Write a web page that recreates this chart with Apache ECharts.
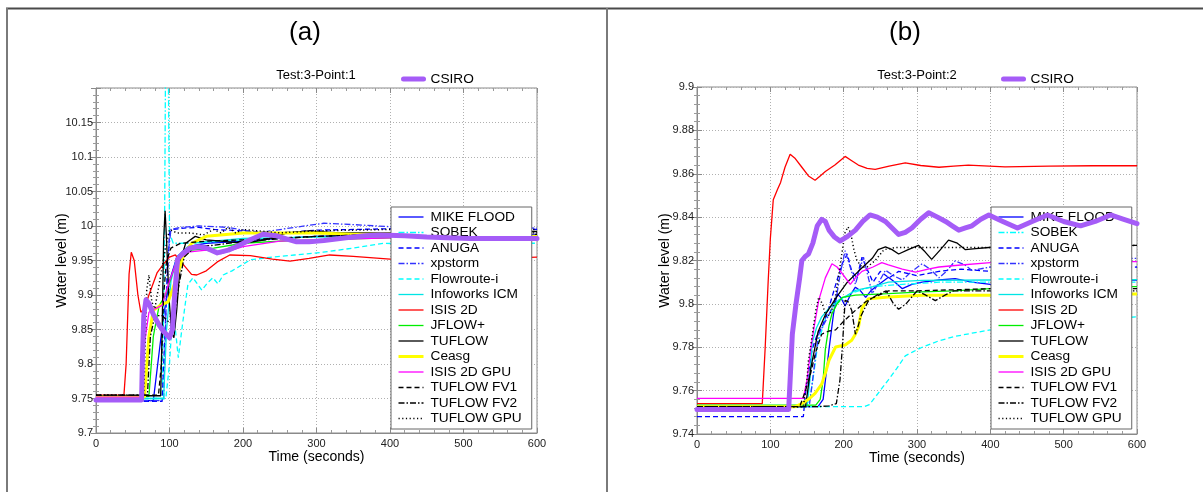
<!DOCTYPE html>
<html><head><meta charset="utf-8">
<script src="https://cdn.jsdelivr.net/npm/echarts@6/dist/echarts.min.js"></script>
<style>html,body{margin:0;padding:0;background:#fff}#c{width:1203px;height:492px}</style>
</head><body><div id="c"></div>
<script>
// ---------- names / ticks ----------
const NAMES = ['MIKE FLOOD','SOBEK','ANUGA','xpstorm','Flowroute-i','Infoworks ICM','ISIS 2D','JFLOW+','TUFLOW','Ceasg','ISIS 2D GPU','TUFLOW FV1','TUFLOW FV2','TUFLOW GPU'];
const REF_NAME = 'CSIRO';
const PANEL_LABELS = ['(a)','(b)'];
const PANEL_TITLES = ['Test:3-Point:1','Test:3-Point:2'];
const X_RANGE = [0, 600, 100];
const Y_RANGE_A = [9.7, 10.2, 0.05];
const Y_RANGE_B = [9.74, 9.9, 0.02];

// ---------- panel (a) data: [time s, level m] ----------
const A_MIKE_FLOOD = [[0,9.747],[78,9.747],[84,9.80],[92,9.87],[100,9.92],[110,9.955],[125,9.97],[150,9.975],[200,9.978],[250,9.982],[300,9.985],[400,9.987],[500,9.988],[600,9.988]];
const A_SOBEK = [[0,9.75],[90,9.75],[93,9.95],[95,10.3],[98,10.3],[100,9.99],[105,9.975],[130,9.975],[200,9.98],[300,9.985],[400,9.985],[600,9.985]];
const A_ANUGA = [[0,9.746],[90,9.746],[96,9.90],[100,9.99],[105,9.995],[120,9.997],[140,9.998],[160,9.995],[200,9.993],[250,9.99],[300,9.994],[400,9.996],[500,9.995],[600,9.995]];
const A_XPSTORM = [[0,9.747],[92,9.747],[97,9.95],[102,9.995],[115,9.998],[140,10.0],[180,9.998],[220,9.99],[270,9.998],[310,10.004],[350,10.002],[400,9.999],[500,9.998],[600,9.997]];
const A_FLOWROUTE = [[0,9.75],[95,9.75],[100,9.80],[104,9.87],[108,9.85],[112,9.809],[118,9.86],[125,9.915],[132,9.925],[144,9.907],[152,9.918],[159,9.925],[166,9.916],[173,9.929],[185,9.935],[210,9.951],[240,9.955],[270,9.958],[309,9.962],[350,9.968],[391,9.975],[450,9.973],[500,9.975],[600,9.975]];
const A_INFOWORKS = [[0,9.75],[92,9.75],[96,9.85],[102,9.92],[110,9.955],[130,9.975],[160,9.978],[200,9.982],[300,9.984],[400,9.985],[600,9.985]];
const A_ISIS2D = [[0,9.755],[38,9.755],[41,9.80],[45,9.93],[48,9.962],[52,9.95],[57,9.90],[61,9.875],[66,9.88],[72,9.90],[83,9.932],[92,9.945],[100,9.955],[108,9.958],[118,9.945],[130,9.93],[137,9.929],[150,9.935],[165,9.948],[182,9.958],[210,9.957],[240,9.952],[264,9.949],[290,9.953],[318,9.958],[350,9.956],[400,9.952],[450,9.954],[500,9.955],[550,9.953],[600,9.955]];
const A_JFLOW = [[0,9.753],[72,9.753],[78,9.84],[86,9.885],[95,9.90],[105,9.935],[115,9.955],[130,9.965],[160,9.968],[200,9.975],[250,9.978],[300,9.98],[400,9.983],[600,9.985]];
const A_TUFLOW = [[0,9.754],[88,9.754],[90,9.85],[92,9.98],[94,10.022],[96,9.98],[99,9.90],[103,9.845],[106,9.838],[110,9.88],[115,9.95],[122,9.975],[135,9.985],[150,9.98],[170,9.978],[200,9.975],[230,9.98],[260,9.99],[290,9.993],[330,9.99],[370,9.99],[400,9.99],[500,9.992],[600,9.992]];
const A_CEASG = [[0,9.752],[66,9.752],[72,9.84],[78,9.878],[88,9.885],[98,9.89],[108,9.92],[120,9.96],[130,9.975],[150,9.985],[200,9.99],[250,9.99],[300,9.99],[350,9.988],[400,9.988],[500,9.985],[600,9.985]];
const A_ISIS2DGPU = [[0,9.752],[62,9.752],[66,9.83],[72,9.875],[80,9.88],[90,9.885],[100,9.92],[110,9.95],[125,9.962],[150,9.965],[170,9.96],[200,9.97],[250,9.978],[300,9.98],[400,9.983],[600,9.983]];
const A_FV1 = [[0,9.755],[85,9.755],[89,9.80],[92,9.90],[96,9.95],[102,9.968],[115,9.975],[150,9.978],[200,9.98],[300,9.985],[400,9.988],[600,9.988]];
const A_FV2 = [[0,9.755],[70,9.755],[74,9.84],[80,9.87],[90,9.87],[100,9.86],[106,9.862],[112,9.91],[120,9.955],[135,9.97],[160,9.972],[200,9.978],[300,9.985],[400,9.988],[600,9.99]];
const A_GPU = [[0,9.755],[65,9.755],[69,9.907],[72,9.929],[76,9.89],[80,9.88],[95,9.97],[100,9.995],[110,9.99],[128,9.99],[146,9.987],[160,9.995],[170,9.99],[180,9.998],[190,9.99],[200,9.995],[250,9.99],[300,9.993],[400,9.995],[600,9.995]];
const A_CSIRO = [[0,9.748],[62,9.748],[63,9.80],[65,9.87],[68,9.893],[72,9.888],[78,9.872],[85,9.858],[92,9.847],[100,9.838],[104,9.85],[107,9.90],[111,9.952],[118,9.96],[128,9.968],[140,9.97],[150,9.968],[165,9.961],[180,9.965],[195,9.972],[210,9.98],[227,9.988],[245,9.986],[260,9.981],[273,9.977],[290,9.977],[310,9.979],[340,9.983],[365,9.986],[386,9.987],[420,9.986],[450,9.984],[477,9.983],[510,9.982],[540,9.982],[570,9.982],[600,9.982]];

// ---------- panel (b) data ----------
const B_MIKE_FLOOD = [[0,9.7526],[165,9.7526],[172,9.756],[180,9.779],[186,9.795],[191,9.8047],[196,9.803],[202,9.799],[209,9.804],[216,9.8077],[223,9.806],[230,9.803],[237,9.806],[243,9.8077],[252,9.81],[261,9.8123],[270,9.81],[280,9.807],[293,9.809],[307,9.81],[330,9.811],[352,9.8116],[375,9.81],[400,9.809],[450,9.81],[500,9.811],[550,9.811],[600,9.811]];
const B_SOBEK = [[0,9.7526],[152,9.7526],[158,9.765],[165,9.782],[175,9.793],[190,9.80],[210,9.805],[240,9.808],[280,9.809],[330,9.81],[400,9.81],[500,9.81],[600,9.81]];
const B_ANUGA = [[0,9.748],[145,9.748],[148,9.759],[157,9.779],[164,9.786],[170,9.789],[177,9.795],[184,9.803],[191,9.811],[198,9.8185],[205,9.823],[211,9.815],[218,9.812],[225,9.8215],[232,9.816],[240,9.81],[250,9.815],[262,9.812],[275,9.815],[300,9.813],[330,9.815],[360,9.816],[400,9.815],[450,9.816],[500,9.816],[600,9.817]];
const B_XPSTORM = [[0,9.7526],[153,9.7526],[157,9.763],[162,9.777],[166,9.786],[172,9.79],[180,9.795],[186,9.80],[191,9.805],[196,9.815],[202,9.8245],[208,9.818],[216,9.809],[221,9.815],[227,9.8215],[233,9.813],[239,9.8047],[248,9.81],[257,9.8155],[268,9.813],[280,9.811],[293,9.815],[307,9.8185],[318,9.816],[330,9.812],[340,9.815],[352,9.8198],[365,9.818],[375,9.8154],[400,9.817],[450,9.819],[500,9.82],[550,9.821],[600,9.821]];
const B_FLOWROUTE = [[0,9.7526],[228,9.7526],[235,9.7535],[243,9.757],[252,9.761],[261,9.765],[272,9.770],[284,9.776],[295,9.778],[307,9.78],[330,9.783],[352,9.785],[375,9.7865],[400,9.788],[450,9.79],[500,9.7915],[550,9.793],[600,9.794]];
const B_INFOWORKS = [[0,9.7526],[150,9.7526],[154,9.765],[157,9.782],[163,9.789],[170,9.794],[180,9.798],[193,9.8017],[205,9.804],[216,9.8062],[240,9.808],[261,9.81],[307,9.8108],[400,9.811],[500,9.811],[600,9.8112]];
const B_ISIS2D = [[0,9.754],[89,9.754],[93,9.78],[97,9.81],[100,9.83],[104,9.848],[110,9.853],[114,9.856],[120,9.863],[127,9.869],[134,9.867],[143,9.863],[152,9.859],[161,9.857],[168,9.859],[175,9.861],[188,9.864],[202,9.868],[211,9.866],[220,9.864],[232,9.8625],[243,9.862],[262,9.8635],[284,9.865],[305,9.8638],[330,9.863],[350,9.8635],[370,9.864],[420,9.8632],[480,9.8635],[540,9.8637],[600,9.8637]];
const B_JFLOW = [[0,9.7533],[162,9.7533],[168,9.756],[172,9.765],[175,9.779],[180,9.79],[184,9.7955],[191,9.80],[198,9.803],[216,9.804],[261,9.8047],[307,9.8055],[350,9.806],[400,9.807],[500,9.808],[600,9.808]];
const B_TUFLOW = [[0,9.7526],[148,9.7526],[155,9.77],[165,9.787],[175,9.795],[190,9.803],[205,9.81],[220,9.815],[239,9.821],[247,9.825],[257,9.8263],[266,9.825],[275,9.823],[288,9.825],[302,9.827],[311,9.824],[320,9.8205],[332,9.825],[343,9.8294],[355,9.828],[366,9.825],[380,9.8255],[398,9.826],[450,9.826],[500,9.8265],[600,9.827]];
const B_CEASG = [[0,9.7526],[134,9.7526],[143,9.754],[152,9.756],[161,9.7587],[170,9.763],[175,9.768],[180,9.774],[189,9.7801],[202,9.781],[211,9.7832],[216,9.786],[220,9.789],[225,9.798],[234,9.8024],[261,9.8032],[307,9.804],[400,9.804],[500,9.8045],[600,9.8045]];
const B_ISIS2DGPU = [[0,9.7564],[145,9.7564],[150,9.765],[155,9.779],[160,9.79],[166,9.8016],[175,9.812],[184,9.8185],[191,9.817],[198,9.814],[209,9.809],[216,9.812],[225,9.815],[240,9.817],[252,9.819],[261,9.818],[280,9.816],[298,9.8146],[315,9.816],[330,9.817],[352,9.8177],[400,9.819],[500,9.8195],[600,9.8195]];
const B_FV1 = [[0,9.7526],[140,9.7526],[148,9.76],[155,9.768],[162,9.778],[170,9.786],[180,9.7875],[189,9.788],[200,9.792],[216,9.797],[230,9.801],[239,9.8027],[261,9.806],[300,9.806],[350,9.8065],[400,9.807],[500,9.807],[600,9.807]];
const B_FV2 = [[0,9.7526],[165,9.7526],[180,9.753],[190,9.754],[195,9.765],[198,9.779],[202,9.8016],[206,9.801],[211,9.797],[216,9.786],[220,9.79],[223,9.794],[234,9.8016],[245,9.804],[258,9.806],[268,9.80],[275,9.7975],[285,9.80],[300,9.806],[312,9.804],[325,9.8015],[338,9.804],[350,9.806],[400,9.806],[500,9.806],[600,9.806]];
const B_GPU = [[0,9.7526],[145,9.7526],[150,9.765],[152,9.774],[157,9.785],[162,9.797],[166,9.8031],[171,9.80],[176,9.794],[181,9.795],[187,9.80],[192,9.81],[197,9.822],[202,9.833],[206,9.8355],[210,9.832],[214,9.825],[218,9.82],[225,9.8169],[232,9.817],[243,9.82],[255,9.825],[270,9.826],[300,9.826],[400,9.826],[600,9.827]];
const B_CSIRO = [[0,9.7513],[125,9.7513],[127,9.765],[130,9.786],[135,9.80],[140,9.812],[143,9.82],[148,9.822],[152,9.823],[158,9.828],[164,9.836],[170,9.839],[175,9.838],[180,9.834],[187,9.831],[195,9.829],[205,9.831],[216,9.834],[226,9.838],[236,9.841],[246,9.840],[257,9.838],[266,9.835],[275,9.832],[284,9.833],[293,9.835],[305,9.839],[316,9.842],[328,9.840],[339,9.838],[348,9.836],[357,9.834],[366,9.835],[375,9.836],[387,9.839],[398,9.841],[417,9.838],[437,9.835],[457,9.838],[478,9.841],[500,9.838],[523,9.836],[543,9.838],[564,9.841],[582,9.839],[600,9.837]];

const DATA_A = [A_MIKE_FLOOD,A_SOBEK,A_ANUGA,A_XPSTORM,A_FLOWROUTE,A_INFOWORKS,A_ISIS2D,A_JFLOW,A_TUFLOW,A_CEASG,A_ISIS2DGPU,A_FV1,A_FV2,A_GPU];
const DATA_B = [B_MIKE_FLOOD,B_SOBEK,B_ANUGA,B_XPSTORM,B_FLOWROUTE,B_INFOWORKS,B_ISIS2D,B_JFLOW,B_TUFLOW,B_CEASG,B_ISIS2DGPU,B_FV1,B_FV2,B_GPU];

// ---------- styles ----------
const DASH = [5,3], DASHDOT = [6,2,1.5,2], DOT = [1.2,2.5];
const STYLES = [
  {color:'#0000ff', type:'solid', width:1.3},
  {color:'#00ffff', type:DASHDOT, width:1.3},
  {color:'#0000ff', type:DASH, width:1.3},
  {color:'#3333ff', type:DASHDOT, width:1.3},
  {color:'#00ffff', type:DASH, width:1.3},
  {color:'#00e5e5', type:'solid', width:1.3},
  {color:'#ff0000', type:'solid', width:1.3},
  {color:'#00ee00', type:'solid', width:1.3},
  {color:'#000000', type:'solid', width:1.3},
  {color:'#ffff00', type:'solid', width:3},
  {color:'#ff00ff', type:'solid', width:1.3},
  {color:'#000000', type:DASH, width:1.3},
  {color:'#000000', type:DASHDOT, width:1.3},
  {color:'#000000', type:DOT, width:1.5}
];
const REF_STYLE = {color:'#a55cf7', width:5};
const FONT = "'Liberation Sans', Arial, Helvetica, sans-serif";

function xAxes(g){
  const base = {type:'value', gridIndex:g, min:X_RANGE[0], max:X_RANGE[1], interval:X_RANGE[2]};
  return [
    Object.assign({}, base, {position:'bottom',
      axisLine:{show:true, lineStyle:{color:'#8a8a8a'}},
      axisTick:{show:true, inside:true, length:5, lineStyle:{color:'#8a8a8a'}},
      minorTick:{show:true, splitNumber:5, length:3, lineStyle:{color:'#9a9a9a'}},
      axisLabel:{color:'#222', fontSize:11, margin:5, fontFamily:FONT},
      splitLine:{show:true, lineStyle:{type:[1,2], color:'#b0b0b0'}},
      name:'Time (seconds)', nameLocation:'middle', nameGap:17, nameMoveOverlap:false,
      nameTextStyle:{color:'#000', fontSize:14, fontFamily:FONT}}),
    Object.assign({}, base, {position:'top',
      axisLine:{show:false},
      axisTick:{show:true, inside:true, length:5, lineStyle:{color:'#8a8a8a'}},
      minorTick:{show:true, splitNumber:5, length:3, lineStyle:{color:'#9a9a9a'}},
      axisLabel:{show:false}, splitLine:{show:false}})
  ];
}
function yAxes(g, r, showMax, gap){
  const base = {type:'value', gridIndex:g, min:r[0], max:r[1], interval:r[2]};
  return [
    Object.assign({}, base, {position:'left',
      axisLine:{show:true, lineStyle:{color:'#8a8a8a'}},
      axisTick:{show:true, inside:true, length:5, lineStyle:{color:'#8a8a8a'}},
      minorTick:{show:true, splitNumber:5, length:3, lineStyle:{color:'#9a9a9a'}},
      axisLabel:{color:'#222', fontSize:11, margin:3, fontFamily:FONT, showMaxLabel:showMax,
        formatter:v => String(+(+v).toFixed(3))},
      splitLine:{show:true, lineStyle:{type:[1,2], color:'#b0b0b0'}},
      name:'Water level (m)', nameLocation:'middle', nameGap:gap, nameMoveOverlap:false,
      nameTextStyle:{color:'#000', fontSize:14, fontFamily:FONT}}),
    Object.assign({}, base, {position:'right',
      axisLine:{show:false},
      axisTick:{show:true, inside:true, length:5, lineStyle:{color:'#8a8a8a'}},
      minorTick:{show:true, splitNumber:5, length:3, lineStyle:{color:'#9a9a9a'}},
      axisLabel:{show:false}, splitLine:{show:false}})
  ];
}

function panelSeries(data, ref, xi, yi){
  const out = data.map((d,i)=>({
    name:NAMES[i], type:'line', xAxisIndex:xi, yAxisIndex:yi, data:d,
    showSymbol:false, symbol:'none', z:2, emphasis:{disabled:true},
    lineStyle:{color:STYLES[i].color, type:STYLES[i].type, width:STYLES[i].width},
    itemStyle:{color:STYLES[i].color}
  }));
  out.push({name:REF_NAME, type:'line', xAxisIndex:xi, yAxisIndex:yi, data:ref,
    showSymbol:false, symbol:'none', z:10, emphasis:{disabled:true},
    lineStyle:{color:REF_STYLE.color, width:REF_STYLE.width, cap:'round', join:'round'},
    itemStyle:{color:REF_STYLE.color}});
  return out;
}

function boxLegend(left){
  return {orient:'vertical', left:left, top:207, data:NAMES, selectedMode:false,
    itemWidth:25, itemHeight:10, itemGap:0.5, padding:[2.5,10,3,6],
    backgroundColor:'#fff', borderColor:'#666', borderWidth:1, z:5,
    itemStyle:{opacity:0}, lineStyle:{width:'inherit'},
    textStyle:{color:'#000', fontSize:13.7, lineHeight:15, fontFamily:FONT, padding:[0,0,0,2]}};
}
function refLegend(left){
  return {orient:'horizontal', left:left, top:71.5, data:[REF_NAME], selectedMode:false,
    itemWidth:20, itemHeight:10, padding:0,
    itemStyle:{opacity:0}, lineStyle:{width:5, cap:'round'},
    textStyle:{color:'#000', fontSize:13.7, lineHeight:15, fontFamily:FONT, padding:[0,0,0,2]}};
}

const chart = echarts.init(document.getElementById('c'), null, {renderer:'canvas'});
chart.setOption({
  animation:false,
  backgroundColor:'#fff',
  grid:[
    {left:96, top:88, width:441, height:345, show:true, borderColor:'#8a8a8a', borderWidth:1},
    {left:697, top:87, width:440, height:347, show:true, borderColor:'#8a8a8a', borderWidth:1}
  ],
  xAxis:[].concat(xAxes(0), xAxes(1)),
  yAxis:[].concat(yAxes(0, Y_RANGE_A, false, 27), yAxes(1, Y_RANGE_B, true, 25)),
  legend:[boxLegend(391), refLegend(401), boxLegend(991), refLegend(1001)],
  series:[].concat(panelSeries(DATA_A, A_CSIRO, 0, 0), panelSeries(DATA_B, B_CSIRO, 2, 2)),
  graphic:[
    {type:'line', shape:{x1:6, y1:8.5, x2:1203, y2:8.5}, style:{stroke:'#4a4a4a', lineWidth:2}},
    {type:'line', shape:{x1:7, y1:8, x2:7, y2:492}, style:{stroke:'#7a7a7a', lineWidth:2}},
    {type:'line', shape:{x1:607, y1:8, x2:607, y2:492}, style:{stroke:'#7a7a7a', lineWidth:2}},
    {type:'text', x:305, y:33, style:{text:PANEL_LABELS[0], font:'26px '+FONT, fill:'#000', align:'center', verticalAlign:'middle'}},
    {type:'text', x:905, y:33, style:{text:PANEL_LABELS[1], font:'26px '+FONT, fill:'#000', align:'center', verticalAlign:'middle'}},
    {type:'text', x:316, y:75, style:{text:PANEL_TITLES[0], font:'13px '+FONT, fill:'#000', align:'center', verticalAlign:'middle'}},
    {type:'text', x:917, y:75, style:{text:PANEL_TITLES[1], font:'13px '+FONT, fill:'#000', align:'center', verticalAlign:'middle'}}
  ]
});
</script>
</body></html>
